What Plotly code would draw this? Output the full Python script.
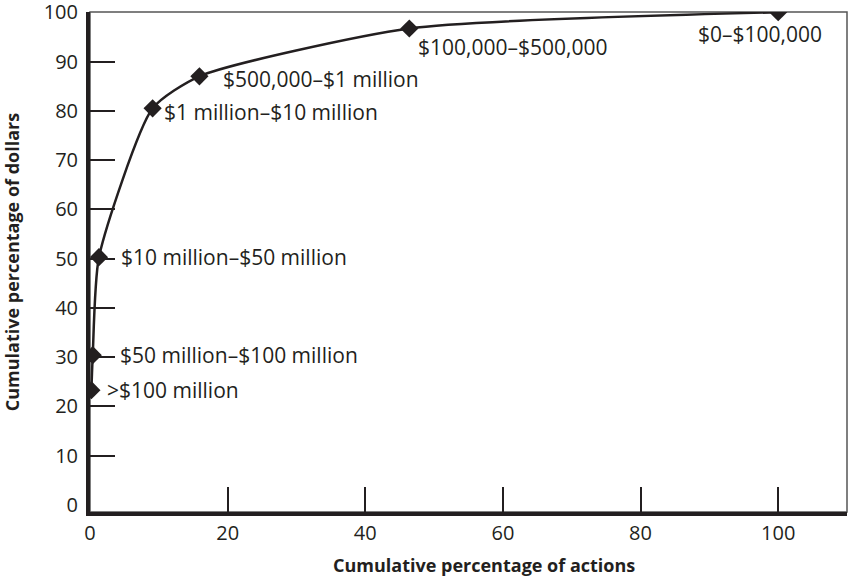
import plotly.graph_objects as go

# cumulative share of actions (x) vs cumulative share of dollars (y), by size band
bands = [">$100 million", "$50 million\u2013$100 million", "$10 million\u2013$50 million",
         "$1 million\u2013$10 million", "$500,000\u2013$1 million",
         "$100,000\u2013$500,000", "$0\u2013$100,000"]
pct_actions = [0.2, 0.4, 1.3, 9.1, 15.9, 46.4, 100]
pct_dollars = [23.3, 30.4, 50.3, 80.5, 87.0, 96.7, 100]

x_ticks = [0, 20, 40, 60, 80, 100]
y_labels = [0, 10, 20, 30, 40, 50, 60, 70, 80, 90, 100]
y_marks = [10, 20, 30, 40, 50, 60, 70, 80, 90]

INK = "#231f20"
FONT = "Open Sans, Noto Sans, sans-serif"

# label placement (pixel offsets from each point)
label_style = [
    dict(xshift=14, yshift=0, xanchor="left"),
    dict(xshift=25, yshift=0, xanchor="left"),
    dict(xshift=20, yshift=0, xanchor="left"),
    dict(xshift=9, yshift=-4, xanchor="left"),
    dict(xshift=22, yshift=-3, xanchor="left"),
    dict(xshift=7, yshift=-18, xanchor="left"),
    dict(xshift=46, yshift=-22, xanchor="right"),
]

fig = go.Figure()
fig.add_trace(go.Scatter(
    x=pct_actions, y=pct_dollars,
    mode="lines+markers",
    line=dict(color=INK, width=2.5, shape="spline", smoothing=0.6),
    marker=dict(symbol="diamond", size=14, color=INK),
    showlegend=False, hoverinfo="skip",
))
# empty trace so the tick-only overlay axis gets drawn
fig.add_trace(go.Scatter(x=[None], y=[None], yaxis="y2", showlegend=False, hoverinfo="skip"))

for name, xv, yv, st in zip(bands, pct_actions, pct_dollars, label_style):
    fig.add_annotation(
        x=xv, y=yv, text=name, showarrow=False,
        xanchor=st["xanchor"], yanchor="middle",
        xshift=st["xshift"], yshift=st["yshift"],
        font=dict(family=FONT, size=21, color=INK),
    )

# x-axis title, set slightly right of the plot centre as in the original
fig.add_annotation(
    xref="paper", yref="paper", x=0.52, y=0, yshift=-53, yanchor="middle",
    text="<b>Cumulative percentage of actions</b>", showarrow=False,
    font=dict(family=FONT, size=18, color=INK),
)

# thin frame for top/right
fig.add_shape(type="rect", xref="paper", yref="paper", x0=0, x1=1, y0=0, y1=1,
              line=dict(color="#555555", width=1.5), layer="below")

fig.update_layout(
    width=848, height=580,
    margin=dict(l=90, r=1, t=12, b=68, autoexpand=False),
    paper_bgcolor="white", plot_bgcolor="white",
    font=dict(family=FONT, size=20, color=INK),
    xaxis=dict(
        range=[0, 110], tickvals=x_ticks, ticks="inside", ticklen=25, tickwidth=1.5,
        tickcolor=INK, showgrid=False, zeroline=False, automargin=False,
        showline=True, linecolor=INK, linewidth=4,
        tickfont=dict(size=20), ticklabelstandoff=0,
    ),
    yaxis=dict(
        range=[-1.42, 100.05], tickvals=y_labels, ticks="", showgrid=False, zeroline=False,
        showline=True, linecolor=INK, linewidth=4, automargin=False,
        tickfont=dict(size=20), ticklabelstandoff=4, ticklabeloverflow="allow",
        title=dict(text="<b>Cumulative percentage of dollars</b>", font=dict(size=18), standoff=34),
    ),
    yaxis2=dict(
        range=[-1.42, 100.05], overlaying="y", side="left", tickvals=y_marks,
        ticks="inside", ticklen=25, tickwidth=1.5, tickcolor=INK, automargin=False,
        showticklabels=False, showgrid=False, zeroline=False, showline=False,
    ),
)

# drop the default 8px body margin so the figure sits flush in the window
fig.write_html("out.html", config={"displayModeBar": False},
               post_script="document.body.style.margin='0';")
